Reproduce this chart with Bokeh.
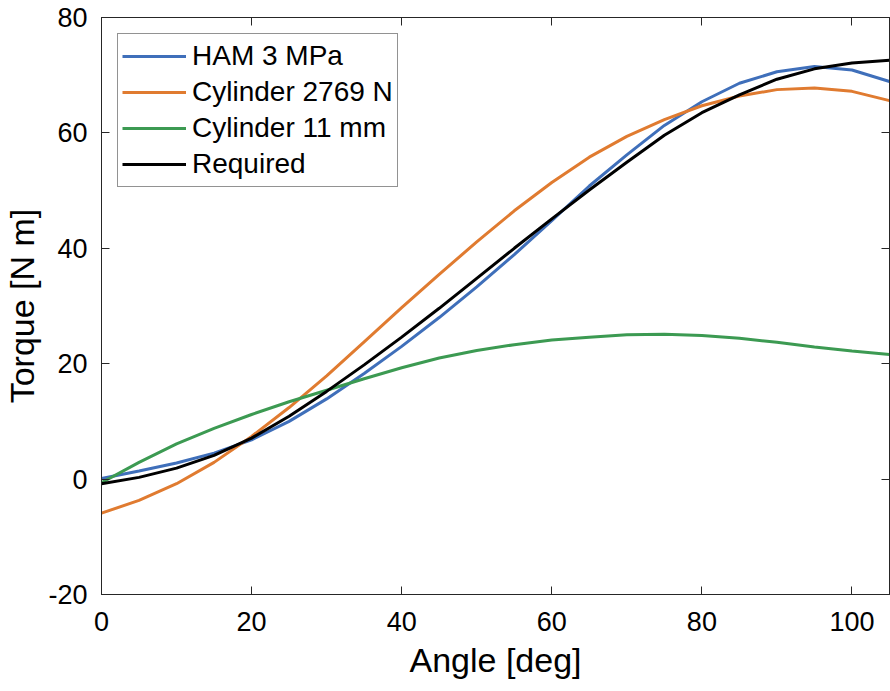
from bokeh.plotting import figure
from bokeh.models import Range1d, LinearAxis, FixedTicker, Legend, LegendItem
from bokeh.embed import file_html
from bokeh.resources import INLINE

angle = [0, 5, 10, 15, 20, 25, 30, 35, 40, 45, 50, 55, 60, 65, 70, 75, 80, 85, 90, 95, 100, 105]
ham_3mpa = [0.1, 1.4, 2.8, 4.5, 6.8, 10.0, 13.9, 18.3, 23.0, 28.0, 33.3, 38.9, 44.8, 50.8, 56.2, 61.3, 65.4, 68.6, 70.6, 71.5, 70.9, 68.9]
cyl_force = [-5.9, -3.7, -0.8, 2.9, 7.4, 12.4, 17.9, 23.8, 29.7, 35.5, 41.1, 46.5, 51.4, 55.8, 59.4, 62.3, 64.7, 66.4, 67.5, 67.8, 67.2, 65.6]
cyl_stroke = [-0.6, 2.9, 6.1, 8.8, 11.2, 13.4, 15.4, 17.4, 19.3, 21.0, 22.3, 23.3, 24.1, 24.6, 25.0, 25.1, 24.9, 24.4, 23.7, 22.9, 22.2, 21.6]
required = [-0.8, 0.3, 1.9, 4.1, 7.1, 10.9, 15.2, 19.8, 24.6, 29.6, 34.8, 40.0, 45.1, 50.1, 54.9, 59.6, 63.5, 66.6, 69.3, 71.1, 72.1, 72.6]

series_names = ["HAM 3 MPa", "Cylinder 2769 N", "Cylinder 11 mm", "Required"]
series_colors = ["#3f6fba", "#e07b30", "#3c9a52", "#000000"]
x_ticks = [0, 20, 40, 60, 80, 100]
y_ticks = [-20, 0, 20, 40, 60, 80]

FONT = "Liberation Sans"
AX = "#262626"

p = figure(width=890, height=691, output_backend="svg", toolbar_location=None,
           x_range=Range1d(0, 105), y_range=Range1d(-20, 80),
           min_border_left=99, min_border_top=17, min_border_right=1, min_border_bottom=97)
p.grid.visible = False
p.outline_line_color = AX
p.outline_line_width = 1
p.background_fill_color = "white"
p.border_fill_color = "white"

def style_axis(ax, ticks, labels=True):
    ax.ticker = FixedTicker(ticks=ticks)
    ax.major_tick_in = 8
    ax.major_tick_out = 0
    ax.minor_tick_in = 0
    ax.minor_tick_out = 0
    ax.axis_line_color = AX
    ax.major_tick_line_color = AX
    ax.axis_line_width = 1
    ax.major_tick_line_width = 1
    ax.major_label_text_font = FONT
    ax.major_label_text_color = "#000000"
    ax.major_label_text_font_size = "27px"
    if labels:
        ax.major_label_overrides = {t: ("-" + str(-t) if t < 0 else str(t)) for t in ticks}
    else:
        ax.major_label_overrides = {t: "" for t in ticks}
        ax.major_label_standoff = 0

style_axis(p.xaxis[0], x_ticks)
style_axis(p.yaxis[0], y_ticks)
p.xaxis[0].major_label_standoff = 17
p.yaxis[0].major_label_standoff = 14
p.xaxis[0].axis_label = "Angle [deg]"
p.yaxis[0].axis_label = "Torque [N m]"
for ax in (p.xaxis[0], p.yaxis[0]):
    ax.axis_label_text_font = FONT
    ax.axis_label_text_font_size = "34px"
    ax.axis_label_text_font_style = "normal"
    ax.axis_label_text_color = "#000000"
p.xaxis[0].axis_label_standoff = 7
p.yaxis[0].axis_label_standoff = 4

top_ax = LinearAxis()
right_ax = LinearAxis()
style_axis(top_ax, x_ticks, labels=False)
style_axis(right_ax, y_ticks, labels=False)
p.add_layout(top_ax, "above")
p.add_layout(right_ax, "right")

items = []
for ys, name, col in zip([ham_3mpa, cyl_force, cyl_stroke, required], series_names, series_colors):
    r = p.line(angle, ys, line_color=col, line_width=3)
    items.append(LegendItem(label=name, renderers=[r]))

legend = Legend(items=items, location="top_left", margin=16,
                label_text_font=FONT, label_text_font_size="28px", label_text_color="#000000",
                glyph_width=64, glyph_height=36, label_height=36, label_standoff=6,
                spacing=0, padding=4, border_line_color=AX, border_line_width=1,
                background_fill_alpha=1.0)
p.add_layout(legend, "center")

open("out.html", "w").write(file_html(p, INLINE))
